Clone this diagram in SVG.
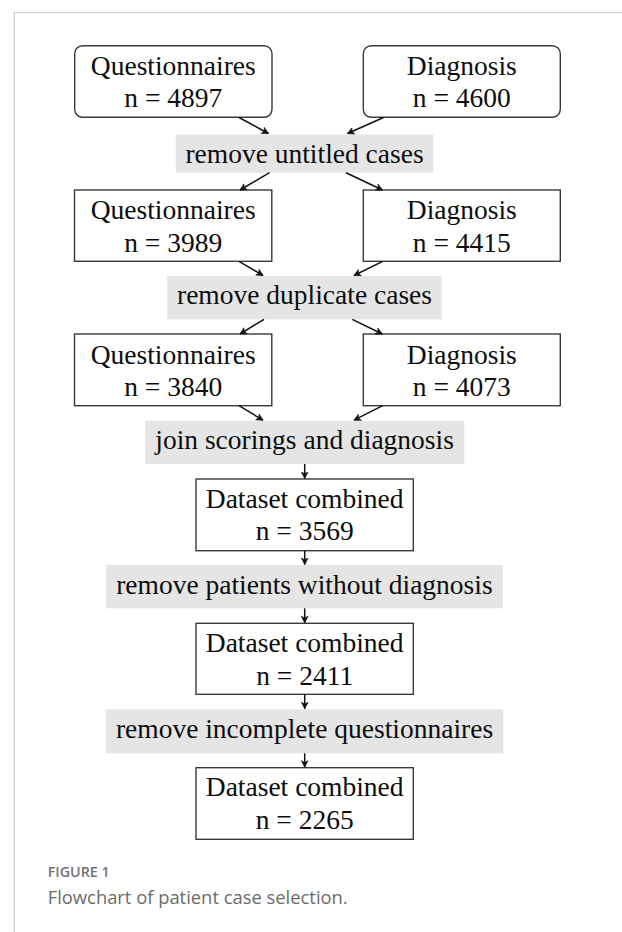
<svg xmlns="http://www.w3.org/2000/svg" width="622" height="932" viewBox="0 0 622 932">
<defs>
<marker id="ah" markerUnits="userSpaceOnUse" markerWidth="10" markerHeight="10" refX="7" refY="4" orient="auto">
<path d="M0.5,0.6 L7,4 L0.5,7.4 L2.2,4 Z" fill="#111" stroke="#111" stroke-width="0.6" stroke-linejoin="round"/>
</marker>
</defs>
<style>
.bx{fill:#fff;stroke:#3a3a3a;stroke-width:1.4}
.lb{fill:#e5e5e5}
.t{font-family:"Liberation Serif","Times New Roman",serif;font-size:27.5px;fill:#0d0d0d;text-anchor:middle}
.c{stroke:#111;stroke-width:1.5;fill:none;marker-end:url(#ah)}
.frame{stroke:#c8c8c8;stroke-width:1.2;fill:none}
.cap1{font-family:"Open Sans","Noto Sans",sans-serif;font-size:15px;font-weight:600;fill:#727272}
.cap2{font-family:"Open Sans","Noto Sans",sans-serif;font-size:19px;fill:#6b6b6b}
</style>
<rect width="622" height="932" fill="#fff"/>
<path class="frame" d="M14.3,932 V12.5 H622"/>

<g id="n1"><rect class="bx" x="74.7" y="45.7" width="197.3" height="71.6" rx="8"/><text class="t" x="173.3" y="75.3">Questionnaires</text><text class="t" x="173.3" y="107.3">n = 4897</text></g>
<g id="n2"><rect class="bx" x="363.3" y="45.7" width="197" height="71.6" rx="8"/><text class="t" x="461.8" y="75.3">Diagnosis</text><text class="t" x="461.8" y="107.3">n = 4600</text></g>
<g id="l1"><rect class="lb" x="175.7" y="134.5" width="257.6" height="38.2"/><text class="t" x="304.5" y="163.3">remove untitled cases</text></g>
<g id="n3"><rect class="bx" x="74.5" y="190" width="197.3" height="71.3"/><text class="t" x="173.2" y="219.3">Questionnaires</text><text class="t" x="173.2" y="252">n = 3989</text></g>
<g id="n4"><rect class="bx" x="363.3" y="190" width="197" height="71.3"/><text class="t" x="461.8" y="219.3">Diagnosis</text><text class="t" x="461.8" y="252">n = 4415</text></g>
<g id="l2"><rect class="lb" x="167.3" y="276" width="274.4" height="43.3"/><text class="t" x="304.5" y="304">remove duplicate cases</text></g>
<g id="n5"><rect class="bx" x="74.5" y="334" width="197.3" height="71.7"/><text class="t" x="173.2" y="363.5">Questionnaires</text><text class="t" x="173.2" y="396">n = 3840</text></g>
<g id="n6"><rect class="bx" x="363.3" y="334" width="197" height="71.7"/><text class="t" x="461.8" y="363.5">Diagnosis</text><text class="t" x="461.8" y="396">n = 4073</text></g>
<g id="l3"><rect class="lb" x="145" y="420.7" width="319.3" height="43.3"/><text class="t" x="304.6" y="449">join scorings and diagnosis</text></g>
<g id="n7"><rect class="bx" x="196" y="479" width="217.3" height="71.7"/><text class="t" x="304.7" y="507.8">Dataset combined</text><text class="t" x="304.7" y="540.3">n = 3569</text></g>
<g id="l4"><rect class="lb" x="106" y="565" width="396.7" height="43.3"/><text class="t" x="304.4" y="593.5">remove patients without diagnosis</text></g>
<g id="n8"><rect class="bx" x="196" y="623.3" width="217.3" height="71"/><text class="t" x="304.7" y="652">Dataset combined</text><text class="t" x="304.7" y="684.5">n = 2411</text></g>
<g id="l5"><rect class="lb" x="105.7" y="709.3" width="397.6" height="44"/><text class="t" x="304.5" y="737.5">remove incomplete questionnaires</text></g>
<g id="n9"><rect class="bx" x="196" y="767.7" width="217.3" height="71.6"/><text class="t" x="304.7" y="796">Dataset combined</text><text class="t" x="304.7" y="829">n = 2265</text></g>

<g id="connectors">
<path class="c" d="M239,117.5 L268.5,133.5"/>
<path class="c" d="M383.5,117.5 L347.5,133.5"/>
<path class="c" d="M269.5,172.7 L240,190"/>
<path class="c" d="M346,172.7 L382.5,190"/>
<path class="c" d="M239,261.3 L263,275.5"/>
<path class="c" d="M382.7,261.3 L354,275.5"/>
<path class="c" d="M264,319.3 L240,334"/>
<path class="c" d="M352.3,319.3 L382.3,334"/>
<path class="c" d="M239,405.7 L263,420.2"/>
<path class="c" d="M382.7,405.7 L354,420.2"/>
<path class="c" d="M304.7,464 V478.5"/>
<path class="c" d="M304.7,550.7 V564.5"/>
<path class="c" d="M304.7,608.3 V622.8"/>
<path class="c" d="M304.7,694.3 V708.8"/>
<path class="c" d="M304.7,753.3 V767.2"/>
</g>

<text class="cap1" x="47.7" y="876.7" textLength="62" lengthAdjust="spacingAndGlyphs">FIGURE 1</text>
<text class="cap2" x="47.7" y="904" textLength="300" lengthAdjust="spacingAndGlyphs">Flowchart of patient case selection.</text>
</svg>
